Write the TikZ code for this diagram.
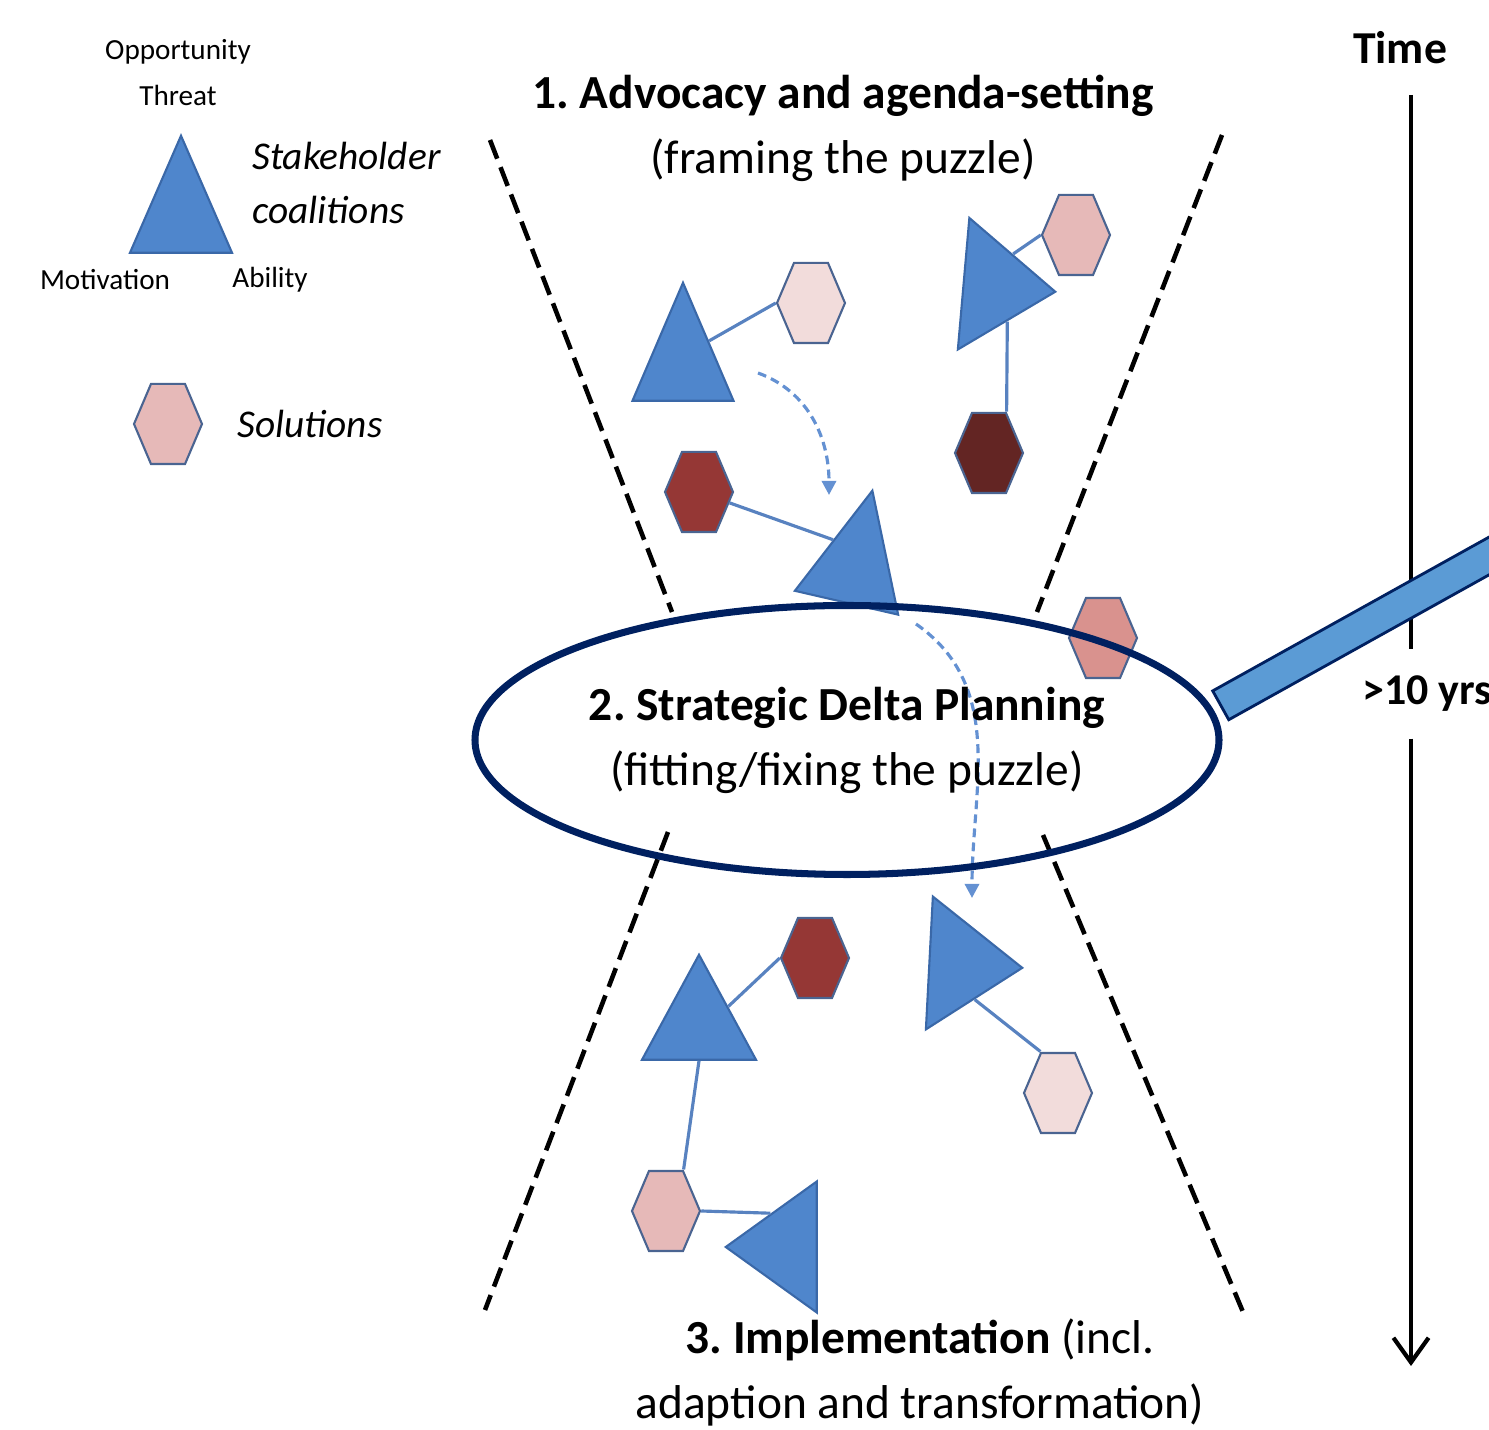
\documentclass[tikz,border=0pt]{standalone}
\usepackage{fontspec}
\setmainfont{Carlito}
\usepackage{xcolor}
\usepackage{tikz}
\usetikzlibrary{arrows.meta,shapes.geometric}
\frenchspacing

\definecolor{coalblue}{RGB}{79,134,204}
\definecolor{coaledge}{RGB}{58,104,168}
\definecolor{solpale}{RGB}{242,220,219}
\definecolor{solpink}{RGB}{230,185,184}
\definecolor{solsalmon}{RGB}{217,146,142}
\definecolor{solbrick}{RGB}{149,55,53}
\definecolor{soldark}{RGB}{99,37,35}
\definecolor{soledge}{RGB}{74,100,145}
\definecolor{navy}{RGB}{0,32,96}
\definecolor{handleblue}{RGB}{91,155,213}
\definecolor{linkblue}{RGB}{88,130,192}
\definecolor{moveblue}{RGB}{100,145,210}

\begin{document}
\begin{tikzpicture}
    \tikzstyle{coalition} = [isosceles triangle,isosceles triangle stretches,draw=coaledge,fill=coalblue,line width=0.6pt,inner sep=0pt,anchor=apex]
    \tikzstyle{solution} = [regular polygon,regular polygon sides=6,minimum size=0.68cm,yscale=1.36,draw=soledge,line width=0.6pt,inner sep=0pt]
    \tikzstyle{link} = [draw=linkblue,line width=0.9pt]
    \tikzstyle{move} = [draw=moveblue,line width=0.9pt,dash pattern=on 2.5pt off 1.5pt,-{Triangle[length=4pt,width=4pt]}]
    \tikzstyle{funnel} = [line width=1.3pt,dash pattern=on 5.7pt off 2.6pt]
    \tikzstyle{small} = [font=\fontsize{8.3}{10}\selectfont]
    \tikzstyle{legend} = [font=\fontsize{11.2}{15.6}\selectfont\itshape,anchor=west,align=left]
    \tikzstyle{phase} = [font=\fontsize{13.5}{18.5}\selectfont,align=center]

    \useasboundingbox (0,0) rectangle (14.89,-14.30);

    \coordinate (fl1) at (4.90,-1.40);
    \coordinate (fl2) at (6.72,-6.12);
    \coordinate (fr1) at (12.22,-1.35);
    \coordinate (fr2) at (10.37,-6.12);
    \coordinate (bl1) at (6.68,-8.32);
    \coordinate (bl2) at (4.85,-13.10);
    \coordinate (br1) at (10.43,-8.35);
    \coordinate (br2) at (12.43,-13.12);
    \draw[funnel] (fl1) -- (fl2);
    \draw[funnel] (fr1) -- (fr2);
    \draw[funnel] (bl1) -- (bl2);
    \draw[funnel] (br1) -- (br2);

    \node[small] (opp) at (1.78,-0.52) {Opportunity};
    \node[small] (thr) at (1.78,-0.95) {Threat};
    \node[coalition,rotate=90,minimum width=1.02cm,minimum height=1.17cm] (lgtri) at (1.81,-1.33) {};
    \node[legend] (stk) at (2.40,-1.83) {Stakeholder\\coalitions};
    \node[small] (mot) at (1.05,-2.80) {Motivation};
    \node[small] (abl) at (2.70,-2.80) {Ability};
    \node[solution,fill=solpink] (lghex) at (1.68,-4.24) {};
    \node[legend] (sol) at (2.25,-4.24) {Solutions};

    \node[coalition,rotate=90,minimum width=1.01cm,minimum height=1.18cm] (t1) at (6.83,-2.80) {};
    \node[solution,fill=solpale] (h1) at (8.11,-3.03) {};
    \node[coalition,rotate=-5,minimum width=1.32cm,minimum height=0.92cm] (t2) at (10.58,-2.92) {};
    \node[solution,fill=solpink] (h2) at (10.76,-2.35) {};
    \node[solution,fill=soldark] (h3) at (9.89,-4.53) {};
    \node[solution,fill=solbrick] (h4) at (6.99,-4.92) {};
    \node[coalition,rotate=77,minimum width=1.06cm,minimum height=1.15cm] (t3) at (8.73,-4.88) {};
    \node[solution,fill=solsalmon] (h5) at (11.03,-6.38) {};

    \node[coalition,rotate=90,minimum width=1.14cm,minimum height=1.05cm] (t4) at (6.99,-9.52) {};
    \node[solution,fill=solbrick] (h6) at (8.15,-9.58) {};
    \node[coalition,rotate=-3,minimum width=1.33cm,minimum height=0.93cm] (t5) at (10.25,-9.68) {};
    \node[solution,fill=solpale] (h7) at (10.58,-10.93) {};
    \node[solution,fill=solpink] (h8) at (6.66,-12.11) {};
    \node[coalition,rotate=180,minimum width=1.31cm,minimum height=0.91cm] (t6) at (7.23,-12.47) {};

    \draw[link] (t1.right side) -- (h1.west);
    \draw[link] (t2.left side) -- (h2.west);
    \draw[link] (t2.right side) -- (h3.60);
    \draw[link] (h4) -- (t3.left side);
    \draw[link] (t4.right side) -- (h6.west);
    \draw[link] (t4.lower side) -- (h8.60);
    \draw[link] (t5.right side) -- (h7.120);
    \draw[link] (h8.east) -- (t6.right side);

    \coordinate (mv1s) at (7.58,-3.73);
    \coordinate (mv1e) at (8.29,-4.95);
    \draw[move] (mv1s) to[out=-20,in=90] (mv1e);
    \coordinate (mv2s) at (9.16,-6.24);
    \coordinate (mv2e) at (9.72,-8.98);
    \draw[move] (mv2s) to[out=-35,in=90] (mv2e);

    \node[phase,draw=navy,line width=2pt,ellipse,inner sep=0pt,minimum width=7.44cm,minimum height=2.69cm] (sdp) at (8.47,-7.40) {\textbf{2. Strategic Delta Planning}\\(fitting/fixing the puzzle)};

    \node[font=\fontsize{13}{15}\selectfont\bfseries] (time) at (14.00,-0.48) {Time};
    \node[font=\fontsize{12.5}{15}\selectfont\bfseries,minimum height=0.88cm,inner sep=0pt] (yrs) at (14.27,-6.94) {>10 yrs};
    \coordinate (ttop) at (14.11,-0.95);
    \coordinate (tbot) at (14.11,-13.66);
    \draw[line width=1.2pt] (ttop) -- (ttop |- yrs.north);
    \draw[line width=1.2pt,-{Straight Barb[length=7pt,width=10pt]}] (ttop |- yrs.south) -- (tbot);

    \node[draw=navy,fill=handleblue,line width=0.8pt,minimum width=4cm,minimum height=0.33cm,inner sep=0pt,rotate=29.1,anchor=west] (lens) at (12.195,-7.06) {};

    \node[phase] (adv) at (8.43,-1.28) {\textbf{1. Advocacy and agenda-setting}\\(framing the puzzle)};
    \node[phase] (impl) at (9.20,-13.72) {\textbf{3. Implementation} (incl.\\adaption and transformation)};
\end{tikzpicture}
\end{document}
